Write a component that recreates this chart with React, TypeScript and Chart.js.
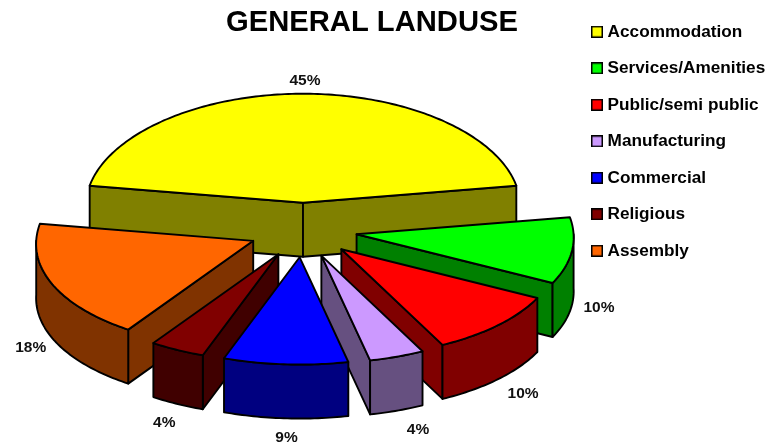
import React, { useEffect, useRef } from "react";
import { Chart, registerables } from "chart.js";

Chart.register(...registerables);

const TITLE = "GENERAL LANDUSE";
const categories = ["Accommodation", "Services/Amenities", "Public/semi public", "Manufacturing", "Commercial", "Religious", "Assembly"];
const shares = [45, 10, 10, 4, 9, 4, 18];
const topColors = ["#FFFF00", "#00FF00", "#FF0000", "#CC99FF", "#0000FF", "#800000", "#FF6600"];
const wallColors = ["#808000", "#008000", "#800000", "#665080", "#000080", "#400000", "#803300"];
// label displacement from the slice's rim point, in px
const labelShiftX = [2, 27, 25, 21, 1, -13, -21];
const labelShiftY = [-13, 3, 15, 19, 19, 19, 10];

const CX = 303;
const CY = 230;
const RX = 217;
const RY = 109;
const DEPTH = 54;
const EXPLODE = 0.25;
const PERSPECTIVE = 0.03;
const FONT = '"Liberation Sans", Arial, sans-serif';

function swatch(color: string) {
  const c = document.createElement("canvas");
  c.width = 12;
  c.height = 12;
  const g = c.getContext("2d")!;
  g.fillStyle = "#000";
  g.fillRect(0, 0, 12, 12);
  g.fillStyle = color;
  g.fillRect(1.5, 1.5, 9, 9);
  return c;
}

const rimX = (a: number) => RX * Math.cos(a) * (1 + PERSPECTIVE * Math.sin(a));
const rimY = (a: number) => RY * Math.sin(a) * (Math.sin(a) > 0 ? 0.985 : 1);

const pie3d = {
  id: "pie3d",
  afterLayout(chart: any) {
    const t = chart.titleBlock;
    t.left = 0;
    t.right = 744;
    t.top = 5;
    const l = chart.legend;
    const pad = l.options.labels.padding;
    l.left = 595 - pad;
    l.right = 790;
    l.top = 23.2 - pad;
    l.bottom = 448;
  },
  beforeDatasetDraw(chart: any, args: any) {
    const ctx: CanvasRenderingContext2D = chart.ctx;
    const arcs: any[] = args.meta.data;
    const items = arcs.map((arc, i) => {
      const s = arc.startAngle;
      const e = arc.endAngle;
      const mid = (s + e) / 2;
      return { i, s, e, mid, x: CX + EXPLODE * RX * Math.cos(mid), y: CY + EXPLODE * RY * Math.sin(mid) };
    });
    ctx.save();
    ctx.lineWidth = 1.9;
    ctx.lineJoin = "round";
    ctx.strokeStyle = "#000";
    const paint = (fill: string) => {
      ctx.fillStyle = fill;
      ctx.fill();
      ctx.stroke();
    };
    const trace = (x: number, y: number, a0: number, a1: number) => {
      const n = Math.max(2, Math.ceil((Math.abs(a1 - a0) * 180) / Math.PI));
      for (let k = 0; k <= n; k++) {
        const a = a0 + ((a1 - a0) * k) / n;
        ctx.lineTo(x + rimX(a), y + rimY(a));
      }
    };
    [...items]
      .sort((a, b) => a.y - b.y)
      .forEach(({ i, s, e, x, y }) => {
        const wall = wallColors[i];
        const radial = (a: number) => {
          const rx = x + rimX(a);
          const ry = y + rimY(a);
          ctx.beginPath();
          ctx.moveTo(x, y);
          ctx.lineTo(rx, ry);
          ctx.lineTo(rx, ry + DEPTH);
          ctx.lineTo(x, y + DEPTH);
          ctx.closePath();
          paint(wall);
        };
        if (Math.cos(s) < 0) radial(s);
        if (Math.cos(e) > 0) radial(e);
        for (let k = -1; k <= 1; k++) {
          const a0 = Math.max(s, 2 * Math.PI * k);
          const a1 = Math.min(e, Math.PI + 2 * Math.PI * k);
          if (a1 <= a0) continue;
          ctx.beginPath();
          trace(x, y, a0, a1);
          trace(x, y + DEPTH, a1, a0);
          ctx.closePath();
          paint(wall);
        }
        ctx.beginPath();
        ctx.moveTo(x, y);
        trace(x, y, s, e);
        ctx.closePath();
        paint(topColors[i]);
      });
    ctx.fillStyle = "#111";
    ctx.font = `bold 15.5px ${FONT}`;
    ctx.textAlign = "center";
    ctx.textBaseline = "middle";
    items.forEach(({ i, mid, x, y }) => {
      const sin = Math.sin(mid);
      const px = x + rimX(mid) + labelShiftX[i];
      const py = y + rimY(mid) + (sin > 0 ? DEPTH : 0) + labelShiftY[i];
      ctx.fillText(`${shares[i]}%`, px, py);
    });
    ctx.restore();
    return false;
  },
};

export default function App() {
  const ref = useRef<HTMLCanvasElement>(null);
  useEffect(() => {
    const chart = new Chart(ref.current!, {
      type: "pie",
      data: {
        labels: categories,
        datasets: [{ data: shares, backgroundColor: topColors, borderColor: "#000", borderWidth: 1.5 }],
      },
      options: {
        responsive: false,
        animation: false,
        devicePixelRatio: 1,
        rotation: -81,
        plugins: {
          tooltip: { enabled: false },
          title: {
            display: true,
            text: TITLE,
            color: "#000",
            font: { family: FONT, size: 29.2, weight: "bold" },
            padding: { top: 0, bottom: 0 },
          },
          legend: {
            display: true,
            position: "right",
            align: "start",
            labels: {
              usePointStyle: true,
              boxHeight: 4,
              boxWidth: 4,
              padding: 19.3,
              color: "#111",
              font: { family: FONT, size: 17.2, weight: "bold" },
              generateLabels: () =>
                categories.map((text, i) => ({
                  text,
                  index: i,
                  fillStyle: topColors[i],
                  strokeStyle: "#000",
                  lineWidth: 1,
                  pointStyle: swatch(topColors[i]),
                })),
            },
          },
        },
      } as any,
      plugins: [pie3d as any],
    });
    return () => chart.destroy();
  }, []);
  return (
    <div style={{ position: "fixed", left: 0, top: 0, width: 767, height: 448, background: "#fff" }}>
      <canvas ref={ref} width={767} height={448} style={{ display: "block" }} />
    </div>
  );
}
